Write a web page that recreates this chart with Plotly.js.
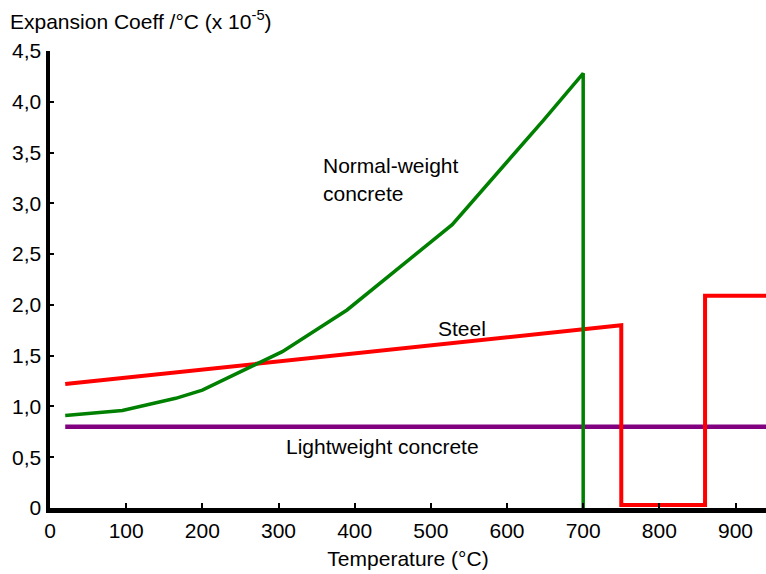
<!DOCTYPE html>
<html>
<head>
<meta charset="utf-8">
<script src="https://cdn.plot.ly/plotly-3.0.1.min.js"></script>
<style>html,body{margin:0;padding:0;background:#fff;}#chart{width:766px;height:574px;}</style>
</head>
<body>
<div id="chart"></div>
<script>
// Temperatures (°C) and expansion coefficients (x 10^-5 /°C)
var concreteT = [20, 95, 165, 200, 305, 390, 528, 648, 700, 700];
var concreteA = [0.91, 0.96, 1.08, 1.16, 1.54, 1.95, 2.79, 3.82, 4.28, 0];

var steelT = [20, 750, 750, 860, 860, 940];
var steelA = [1.22, 1.80, 0.03, 0.03, 2.09, 2.09];

var lightT = [20, 940];
var lightA = [0.80, 0.80];

var xTicks = [0, 100, 200, 300, 400, 500, 600, 700, 800, 900];
var yTicks = [0, 0.5, 1, 1.5, 2, 2.5, 3, 3.5, 4, 4.5];
var yTickText = ["0", "0,5", "1,0", "1,5", "2,0", "2,5", "3,0", "3,5", "4,0", "4,5"];

var font = "Liberation Sans, Arial, sans-serif";
var fs = 21;

var traces = [
  {x: lightT, y: lightA, mode: "lines", line: {color: "#800080", width: 4.5}, hoverinfo: "skip"},
  {x: steelT, y: steelA, mode: "lines", line: {color: "#ff0000", width: 4}, hoverinfo: "skip"},
  {x: concreteT, y: concreteA, mode: "lines", line: {color: "#008000", width: 3.5}, hoverinfo: "skip"}
];

var layout = {
  width: 766, height: 574,
  margin: {l: 50, r: 0, t: 51, b: 66},
  paper_bgcolor: "#fff", plot_bgcolor: "#fff",
  showlegend: false,
  font: {family: font, size: fs, color: "#000"},
  xaxis: {
    range: [0, 940], showgrid: false, zeroline: false,
    showline: true, linecolor: "#000", linewidth: 4.5,
    ticks: "inside", ticklen: 5, tickwidth: 2, tickcolor: "#000",
    tickvals: xTicks, ticktext: xTicks.map(String),
    tickfont: {family: font, size: fs},
    title: {text: "Temperature (°C)", font: {family: font, size: fs}, standoff: 12}
  },
  yaxis: {
    range: [0, 4.5], showgrid: false, zeroline: false,
    showline: true, linecolor: "#000", linewidth: 4.5,
    ticks: "inside", ticklen: 4, tickwidth: 2, tickcolor: "#000",
    tickvals: yTicks, ticktext: yTickText,
    tickfont: {family: font, size: fs}
  },
  annotations: [
    {xref: "paper", yref: "paper", x: -0.058, y: 1.0, yshift: 31, xanchor: "left", yanchor: "middle",
     text: "Expansion Coeff /°C (x 10<sup>-5</sup>)", showarrow: false, font: {family: font, size: fs}},
    {x: 356, y: 3.37, xanchor: "left", yanchor: "middle", text: "Normal-weight", showarrow: false},
    {x: 356, y: 3.10, xanchor: "left", yanchor: "middle", text: "concrete", showarrow: false},
    {x: 541, y: 1.77, xanchor: "center", yanchor: "middle", text: "Steel", showarrow: false},
    {x: 436, y: 0.61, xanchor: "center", yanchor: "middle", text: "Lightweight concrete", showarrow: false}
  ]
};

Plotly.newPlot("chart", traces, layout, {displayModeBar: false, staticPlot: true});
</script>
</body>
</html>
